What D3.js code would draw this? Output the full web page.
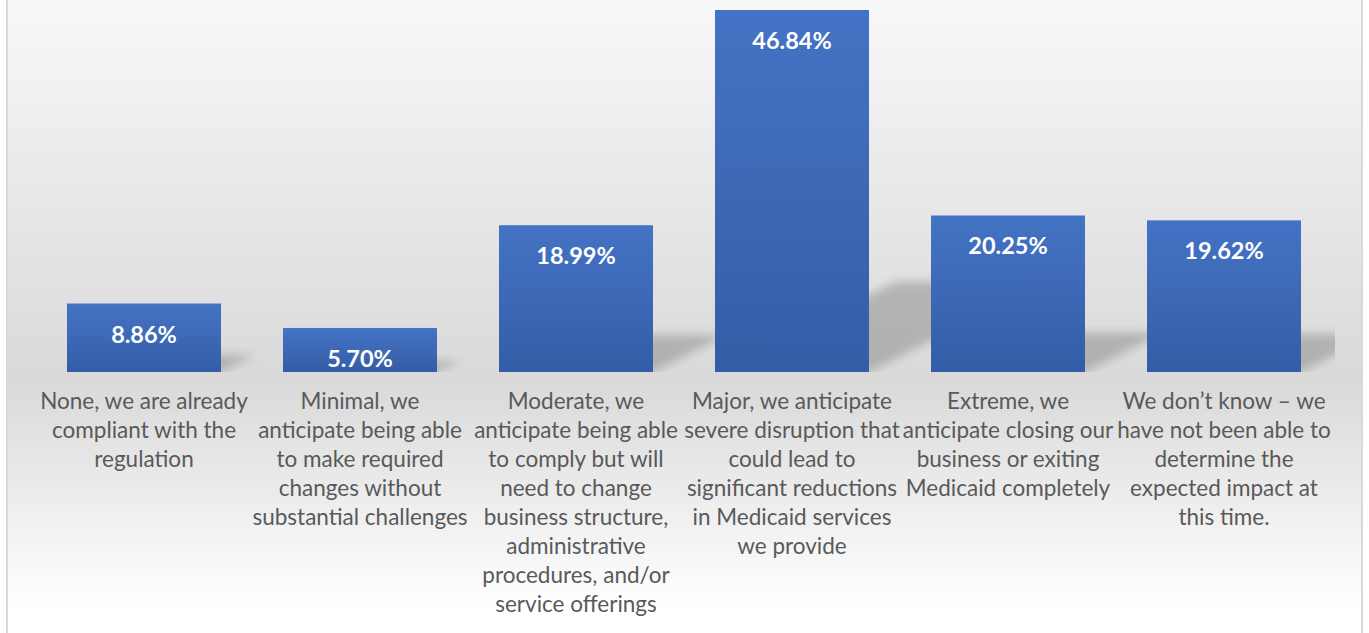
<!DOCTYPE html>
<html>
<head>
<meta charset="utf-8">
<script src="https://cdn.jsdelivr.net/npm/d3@7"></script>
<style>
  html, body { margin: 0; padding: 0; background: #ffffff; }
  svg { display: block; }
</style>
</head>
<body>
<svg id="chart" width="1369" height="633"></svg>
<script>
const categories = [
  ["None, we are already", "compliant with the", "regulation"],
  ["Minimal, we", "anticipate being able", "to make required", "changes without", "substantial challenges"],
  ["Moderate, we", "anticipate being able", "to comply but will", "need to change", "business structure,", "administrative", "procedures, and/or", "service offerings"],
  ["Major, we anticipate", "severe disruption that", "could lead to", "significant reductions", "in Medicaid services", "we provide"],
  ["Extreme, we", "anticipate closing our", "business or exiting", "Medicaid completely"],
  ["We don\u2019t know \u2013 we", "have not been able to", "determine the", "expected impact at", "this time."]
];
const values = [8.86, 5.70, 18.99, 46.84, 20.25, 19.62];
const valueLabels = ["8.86%", "5.70%", "18.99%", "46.84%", "20.25%", "19.62%"];

const W = 1369, H = 633;
const svg = d3.select("#chart");
const defs = svg.append("defs");

// background gradient
const bg = defs.append("linearGradient").attr("id", "bgGrad")
  .attr("x1", 0).attr("y1", 0).attr("x2", 0).attr("y2", 1);
bg.append("stop").attr("offset", "0%").attr("stop-color", "#f8f8f8");
bg.append("stop").attr("offset", "60%").attr("stop-color", "#d9d9d9");
bg.append("stop").attr("offset", "96%").attr("stop-color", "#ffffff");
bg.append("stop").attr("offset", "100%").attr("stop-color", "#ffffff");

// bar gradient
const bgBar = defs.append("linearGradient").attr("id", "barGrad")
  .attr("x1", 0).attr("y1", 0).attr("x2", 0).attr("y2", 1);
bgBar.append("stop").attr("offset", "0%").attr("stop-color", "#4473c5");
bgBar.append("stop").attr("offset", "100%").attr("stop-color", "#355da6");

// shadow blur
const f = defs.append("filter").attr("id", "shadowBlur")
  .attr("x", "-50%").attr("y", "-50%").attr("width", "200%").attr("height", "200%");
f.append("feGaussianBlur").attr("stdDeviation", 5);

defs.append("clipPath").attr("id", "plotClip")
  .append("rect").attr("x", 8).attr("y", 0).attr("width", 1327).attr("height", 372);

svg.append("rect")
  .attr("x", 7).attr("y", 0).attr("width", 1355).attr("height", H)
  .attr("fill", "url(#bgGrad)");
svg.append("line").attr("x1", 7).attr("x2", 7).attr("y1", 0).attr("y2", H)
  .attr("stroke", "#d9d9d9").attr("stroke-width", 2);
svg.append("line").attr("x1", 1362).attr("x2", 1362).attr("y1", 0).attr("y2", H)
  .attr("stroke", "#d9d9d9").attr("stroke-width", 2);

const x = d3.scaleBand()
  .domain(d3.range(values.length))
  .range([36, 1332])
  .paddingInner(62 / 216)
  .paddingOuter(31 / 216);

const y = d3.scaleLinear()
  .domain([0, d3.max(values)])
  .range([372, 10]);

const base = y(0);

// shadows
svg.append("g").attr("class", "shadows")
  .attr("clip-path", "url(#plotClip)")
  .selectAll("path").data(values).join("path")
  .attr("d", (d, i) => {
    const x0 = x(i), x1 = x(i) + x.bandwidth();
    const h = base - y(d);
    const sh = h * 0.25, dx = h * 0.5;
    return `M${x0},${base}L${x1},${base}L${x1 + dx},${base - sh}L${x0 + dx},${base - sh}Z`;
  })
  .attr("fill", "#7f7f7f")
  .attr("opacity", 0.45)
  .attr("filter", "url(#shadowBlur)");

// bars
svg.append("g").attr("class", "bars")
  .selectAll("rect").data(values).join("rect")
  .attr("x", (d, i) => x(i))
  .attr("y", d => y(d))
  .attr("width", x.bandwidth())
  .attr("height", d => base - y(d))
  .attr("fill", "url(#barGrad)");

// value labels
svg.append("g").attr("class", "values")
  .selectAll("text").data(values).join("text")
  .attr("x", (d, i) => x(i) + x.bandwidth() / 2)
  .attr("y", d => y(d) + 39)
  .attr("text-anchor", "middle")
  .attr("font-family", "Lato, 'Open Sans', sans-serif")
  .attr("font-weight", "bold")
  .attr("font-size", 23.5)
  .attr("fill", "#ffffff")
  .text((d, i) => valueLabels[i]);

// category labels
const catG = svg.append("g").attr("class", "categories");
categories.forEach((lines, i) => {
  const t = catG.append("text")
    .attr("x", x(i) + x.bandwidth() / 2)
    .attr("y", 409)
    .attr("text-anchor", "middle")
    .attr("font-family", "Lato, 'Open Sans', sans-serif")
    .attr("font-size", 22.5)
    .attr("fill", "#595959");
  lines.forEach((ln, j) => {
    t.append("tspan")
      .attr("x", x(i) + x.bandwidth() / 2)
      .attr("dy", j === 0 ? 0 : 29)
      .text(ln);
  });
});
</script>
</body>
</html>
